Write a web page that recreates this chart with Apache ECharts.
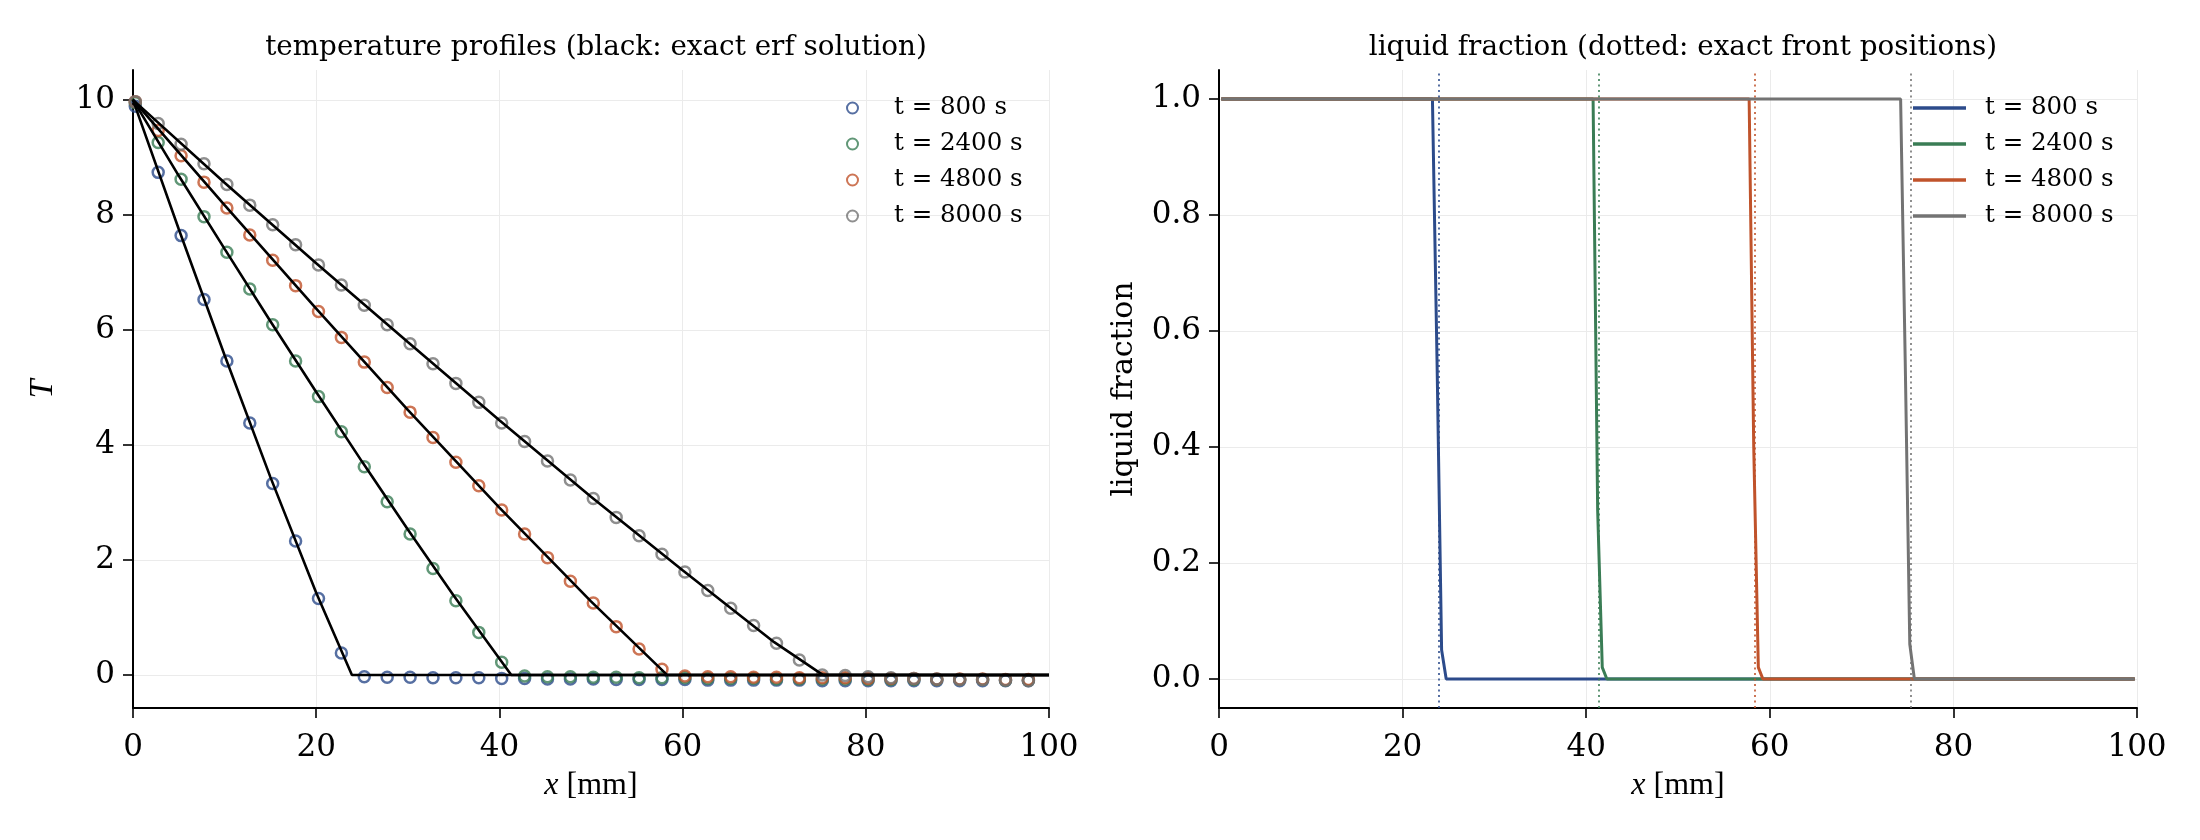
<!DOCTYPE html>
<html>
<head>
<meta charset="utf-8">
<title>temperature / liquid fraction</title>
<script src="https://cdn.jsdelivr.net/npm/echarts@6.0.0/dist/echarts.min.js"></script>
<style>
  html, body { margin: 0; padding: 0; background: #fff; }
  #main { width: 2200px; height: 840px; }
</style>
</head>
<body>
<div id="main"></div>
<script>
// sampled cells (every 5th cell centre) [mm]
var xs = [0.25, 2.75, 5.25, 7.75, 10.25, 12.75, 15.25, 17.75, 20.25, 22.75,
  25.25, 27.75, 30.25, 32.75, 35.25, 37.75, 40.25, 42.75, 45.25, 47.75,
  50.25, 52.75, 55.25, 57.75, 60.25, 62.75, 65.25, 67.75, 70.25, 72.75,
  75.25, 77.75, 80.25, 82.75, 85.25, 87.75, 90.25, 92.75, 95.25, 97.75];

// numerical temperature at the sampled cells
var t800 = [9.89, 8.74, 7.64, 6.53, 5.46, 4.38, 3.33, 2.33, 1.33, 0.38,
  -0.03, -0.04, -0.04, -0.05, -0.05, -0.05, -0.06, -0.06, -0.07, -0.07,
  -0.07, -0.08, -0.08, -0.08, -0.08, -0.09, -0.09, -0.09, -0.09, -0.09,
  -0.1, -0.1, -0.1, -0.1, -0.1, -0.1, -0.1, -0.1, -0.1, -0.1];
var t2400 = [9.95, 9.26, 8.62, 7.97, 7.35, 6.71, 6.09, 5.46, 4.84, 4.23,
  3.62, 3.01, 2.45, 1.85, 1.29, 0.74, 0.22, -0.02, -0.03, -0.03,
  -0.04, -0.04, -0.05, -0.05, -0.05, -0.06, -0.06, -0.06, -0.07, -0.07,
  -0.07, -0.07, -0.08, -0.08, -0.08, -0.08, -0.08, -0.08, -0.09, -0.09];
var t4800 = [9.97, 9.47, 9.03, 8.57, 8.12, 7.65, 7.21, 6.77, 6.32, 5.87,
  5.44, 5.00, 4.57, 4.13, 3.70, 3.29, 2.87, 2.45, 2.04, 1.63,
  1.25, 0.84, 0.45, 0.10, -0.02, -0.03, -0.03, -0.04, -0.04, -0.05,
  -0.05, -0.05, -0.06, -0.06, -0.06, -0.07, -0.07, -0.07, -0.08, -0.08];
var t8000 = [9.97, 9.59, 9.23, 8.89, 8.53, 8.17, 7.83, 7.48, 7.13, 6.78,
  6.43, 6.09, 5.76, 5.41, 5.07, 4.74, 4.38, 4.06, 3.72, 3.39,
  3.07, 2.74, 2.42, 2.10, 1.79, 1.47, 1.16, 0.86, 0.55, 0.26,
  0.0, -0.01, -0.03, -0.05, -0.06, -0.07, -0.08, -0.08, -0.09, -0.1];

// exact erf solution (black curves)
var exX800 = [0, 5, 10, 15, 20, 23.9, 100];
var exT800 = [10, 7.75, 5.56, 3.44, 1.43, 0, 0];
var exX2400 = [0, 5, 10, 15, 20, 25, 30, 35, 41.3, 100];
var exT2400 = [10, 8.68, 7.41, 6.15, 4.92, 3.71, 2.53, 1.38, 0, 0];
var exX4800 = [0, 10, 20, 30, 40, 50, 58.3, 100];
var exT4800 = [10, 8.17, 6.37, 4.61, 2.91, 1.28, 0, 0];
var exX8000 = [0, 10, 20, 30, 40, 50, 60, 70, 75.3, 100];
var exT8000 = [10, 8.56, 7.16, 5.79, 4.43, 3.1, 1.82, 0.57, 0, 0];

// liquid fraction
var lfX800 = [0.25, 23.25, 23.75, 24.25, 24.75, 99.75];
var lf800 = [1, 1, 0.55, 0.05, 0, 0];
var lfX2400 = [0.25, 40.75, 41.25, 41.75, 42.25, 99.75];
var lf2400 = [1, 1, 0.29, 0.02, 0, 0];
var lfX4800 = [0.25, 57.75, 58.25, 58.75, 59.25, 99.75];
var lf4800 = [1, 1, 0.4, 0.02, 0, 0];
var lfX8000 = [0.25, 74.25, 74.75, 75.25, 75.75, 99.75];
var lf8000 = [1, 1, 0.55, 0.06, 0, 0];

// exact front positions [mm]
var fronts = [23.9, 41.35, 58.35, 75.4];

var labels = ['t = 800 s', 't = 2400 s', 't = 4800 s', 't = 8000 s'];
var colors = ['#2c4b8b', '#3a7d55', '#c0532b', '#737373'];
var tTicks = [0, 2, 4, 6, 8, 10];
var lfTicks = [0, 0.2, 0.4, 0.6, 0.8, 1.0];

var font = 'DejaVu Serif', mathFont = 'Liberation Serif';

function zip(a, b) {
  var out = [];
  for (var i = 0; i < a.length; i++) out.push([a[i], b[i]]);
  return out;
}

var tempSets = [t800, t2400, t4800, t8000];
var exactSets = [[exX800, exT800], [exX2400, exT2400], [exX4800, exT4800], [exX8000, exT8000]];
var lfSets = [[lfX800, lf800], [lfX2400, lf2400], [lfX4800, lf4800], [lfX8000, lf8000]];
var lfNames = ['lf0', 'lf1', 'lf2', 'lf3'];

var series = [];
tempSets.forEach(function (vals, i) {
  series.push({
    name: labels[i], type: 'scatter', xAxisIndex: 0, yAxisIndex: 0,
    data: zip(xs, vals), symbol: 'circle', symbolSize: 11,
    itemStyle: { color: 'rgba(255,255,255,0)', borderColor: colors[i], borderWidth: 2.5 },
    z: 3
  });
});
exactSets.forEach(function (s, i) {
  series.push({
    name: 'exact' + i, type: 'line', xAxisIndex: 0, yAxisIndex: 0,
    data: zip(s[0], s[1]), symbol: 'none',
    lineStyle: { color: '#000', width: 2.6 }, z: 4
  });
});
lfSets.forEach(function (s, i) {
  series.push({
    name: lfNames[i], type: 'line', xAxisIndex: 1, yAxisIndex: 1,
    data: zip(s[0], s[1]), symbol: 'none',
    lineStyle: { color: colors[i], width: 3 }, itemStyle: { color: colors[i] },
    markLine: {
      silent: true, symbol: ['none', 'none'], label: { show: false },
      lineStyle: { color: colors[i], type: [2, 3.5], width: 1.6 },
      data: [{ xAxis: fronts[i] }]
    }
  });
});

function xAx(gi) {
  return {
    type: 'value', gridIndex: gi, min: 0, max: 100, interval: 20,
    name: '{i|x} [mm]', nameLocation: 'middle', nameGap: 62,
    nameTextStyle: {
      fontFamily: mathFont, fontSize: 32, color: '#000',
      rich: { i: { fontFamily: mathFont, fontStyle: 'italic', fontSize: 32, color: '#000' } }
    },
    axisLine: { onZero: false, lineStyle: { color: '#000', width: 2 } },
    axisTick: { length: 10, lineStyle: { color: '#000', width: 1.6 } },
    axisLabel: { margin: 24, fontFamily: font, fontSize: 31, color: '#000' },
    splitLine: { show: true, lineStyle: { color: '#ebebeb', width: 1 } }
  };
}

function yAx(gi, min, max, ticks, name, gap, nameStyle, fmt) {
  return {
    type: 'value', gridIndex: gi, min: min, max: max,
    name: name, nameLocation: 'middle', nameGap: gap, nameRotate: 90,
    nameTextStyle: nameStyle,
    axisLine: { show: true, onZero: false, lineStyle: { color: '#000', width: 2 } },
    axisTick: { show: true, length: 10, customValues: ticks, lineStyle: { color: '#000', width: 1.6 } },
    axisLabel: { margin: 18, customValues: ticks, fontFamily: font, fontSize: 31, color: '#000', formatter: fmt },
    splitLine: { show: true, lineStyle: { color: '#ebebeb', width: 1 } }
  };
}

var chart = echarts.init(document.getElementById('main'));
chart.setOption({
  animation: false,
  backgroundColor: '#fff',
  title: [
    { text: 'temperature profiles (black: exact erf solution)', left: 591, top: 29, textAlign: 'center',
      textStyle: { fontFamily: font, fontSize: 27.8, fontWeight: 'normal', color: '#000' } },
    { text: 'liquid fraction (dotted: exact front positions)', left: 1678, top: 29, textAlign: 'center',
      textStyle: { fontFamily: font, fontSize: 27.8, fontWeight: 'normal', color: '#000' } }
  ],
  legend: [
    { data: labels, orient: 'vertical', left: 846, top: 93, padding: 0,
      itemWidth: 11, itemHeight: 11, itemGap: 6, selectedMode: false,
      textStyle: { fontFamily: font, fontSize: 24.5, color: '#000', lineHeight: 30, padding: [0, 0, 0, 31] } },
    { data: lfNames.map(function (n) { return { name: n, icon: 'rect' }; }),
      orient: 'vertical', left: 1913, top: 93, padding: 0,
      itemWidth: 53, itemHeight: 3.5, itemGap: 6, selectedMode: false,
      formatter: function (n) { return labels[lfNames.indexOf(n)]; },
      textStyle: { fontFamily: font, fontSize: 24.5, color: '#000', lineHeight: 30, padding: [0, 0, 0, 14] } }
  ],
  grid: [
    { left: 133, top: 70, width: 916, height: 638 },
    { left: 1219, top: 70, width: 918, height: 638 }
  ],
  xAxis: [xAx(0), xAx(1)],
  yAxis: [
    yAx(0, -0.575, 10.52, tTicks, 'T', 73,
      { fontFamily: mathFont, fontStyle: 'italic', fontSize: 34, color: '#000' },
      function (v) { return String(v); }),
    yAx(1, -0.05, 1.05, lfTicks, 'liquid fraction', 80,
      { fontFamily: font, fontSize: 30, color: '#000' },
      function (v) { return v.toFixed(1); })
  ],
  series: series
});
</script>
</body>
</html>
